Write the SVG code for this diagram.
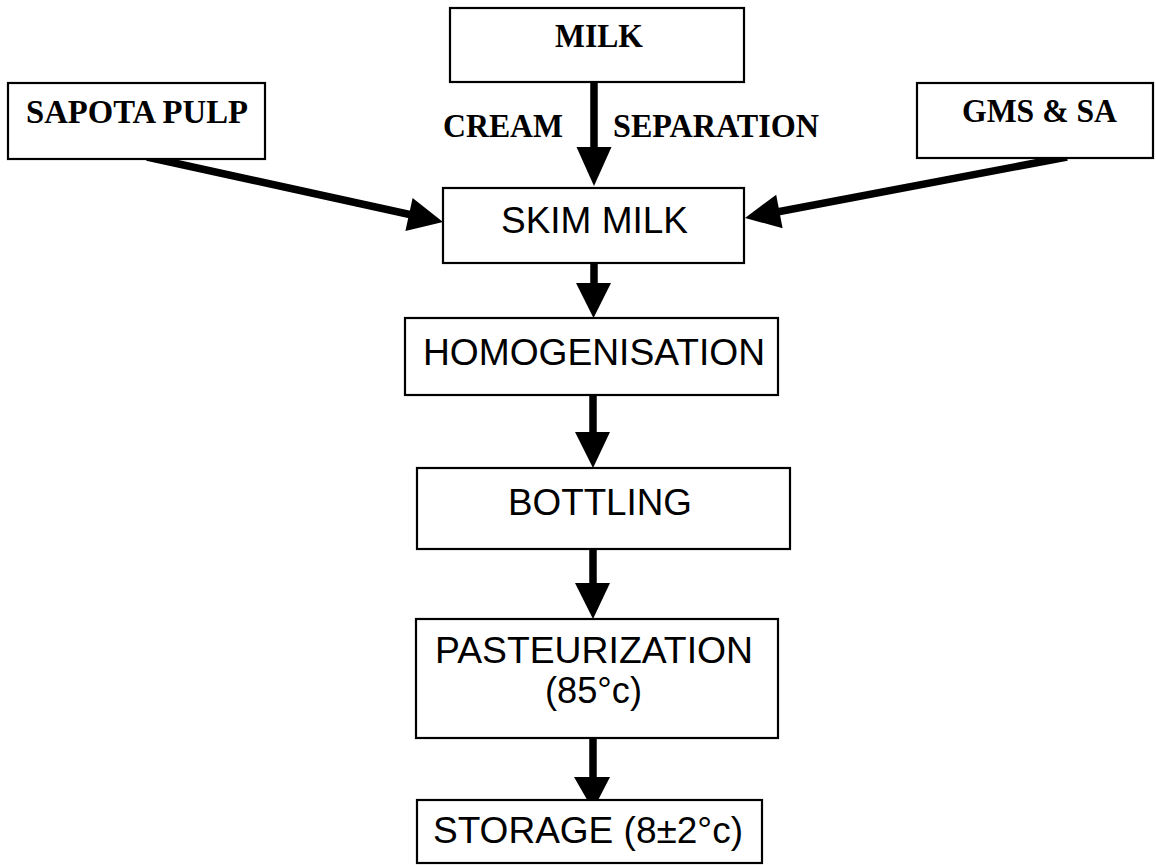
<svg xmlns="http://www.w3.org/2000/svg" width="1156" height="865" viewBox="0 0 1156 865">
<style>
.box{fill:#fff;stroke:#000;stroke-width:2.2}
.tb{font-family:"Liberation Serif","Times New Roman",serif;font-weight:bold;font-size:33.5px;fill:#000}
.ar{font-family:"Liberation Sans",Arial,sans-serif;font-size:37.5px;fill:#000}
.shaft{stroke:#000;stroke-width:7.5;fill:none}
.head{fill:#000;stroke:none}
</style>
<rect width="1156" height="865" fill="#fff"/>
<g id="connectors">
<line class="shaft" x1="594" y1="82" x2="594" y2="150"/>
<polygon class="head" points="576.5,147 611.5,147 594,186"/>
<line class="shaft" x1="594" y1="263" x2="594" y2="286"/>
<polygon class="head" points="576,283 611,283 593.5,318"/>
<line class="shaft" x1="593" y1="395" x2="593" y2="435"/>
<polygon class="head" points="575,432 610,432 593,468"/>
<line class="shaft" x1="593" y1="549" x2="593" y2="586"/>
<polygon class="head" points="575,583 610,583 593,619"/>
<line class="shaft" x1="593" y1="738" x2="593" y2="780"/>
<polygon class="head" points="574,777 610,777 593,810"/>
<line class="shaft" x1="147" y1="157" x2="412" y2="215"/>
<polygon class="head" points="443,222 412.6,198 405.4,231"/>
<line class="shaft" x1="1067" y1="157" x2="777" y2="212"/>
<polygon class="head" points="745,218 776.2,194.8 782.6,228.2"/>
</g>
<g id="milk">
<rect class="box" x="450" y="8" width="294" height="74"/>
<text class="tb" x="555" y="47" textLength="88" lengthAdjust="spacingAndGlyphs">MILK</text>
</g>
<g id="cream-separation-label">
<text class="tb" x="443" y="137" textLength="120" lengthAdjust="spacingAndGlyphs">CREAM</text>
<text class="tb" x="613" y="137" textLength="206" lengthAdjust="spacingAndGlyphs">SEPARATION</text>
</g>
<g id="sapota">
<rect class="box" x="8" y="83" width="257" height="76"/>
<text class="tb" x="26" y="123" textLength="222" lengthAdjust="spacingAndGlyphs">SAPOTA PULP</text>
</g>
<g id="gms">
<rect class="box" x="917" y="83" width="236" height="75"/>
<text class="tb" x="962" y="122" textLength="155" lengthAdjust="spacingAndGlyphs">GMS &amp; SA</text>
</g>
<g id="skim">
<rect class="box" x="443" y="188" width="301" height="75"/>
<text class="ar" x="501" y="233" textLength="187" lengthAdjust="spacingAndGlyphs">SKIM MILK</text>
</g>
<g id="homogenisation">
<rect class="box" x="405" y="318" width="373" height="77"/>
<text class="ar" x="423" y="365" textLength="342" lengthAdjust="spacingAndGlyphs">HOMOGENISATION</text>
</g>
<g id="bottling">
<rect class="box" x="417" y="468" width="373" height="81"/>
<text class="ar" x="508" y="515" textLength="184" lengthAdjust="spacingAndGlyphs">BOTTLING</text>
</g>
<g id="pasteurization">
<rect class="box" x="416" y="619" width="362" height="119"/>
<text class="ar" x="435" y="663" textLength="318" lengthAdjust="spacingAndGlyphs">PASTEURIZATION</text>
<text class="ar" x="545" y="703" textLength="97" lengthAdjust="spacingAndGlyphs">(85°c)</text>
</g>
<g id="storage">
<rect class="box" x="417" y="800" width="345" height="63"/>
<text class="ar" x="433" y="843" textLength="310" lengthAdjust="spacingAndGlyphs">STORAGE (8±2°c)</text>
</g>
</svg>
